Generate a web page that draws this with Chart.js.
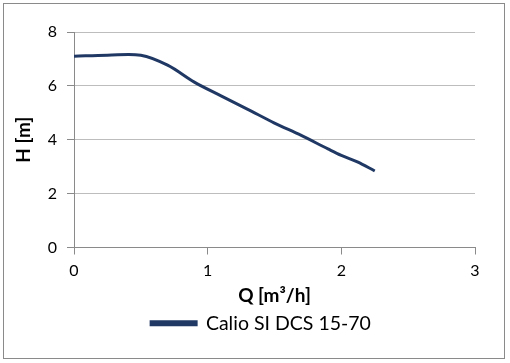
<!DOCTYPE html>
<html lang="en">
<head>
    <meta charset="UTF-8">
    <title>Calio SI DCS 15-70</title>
    <script src="https://cdn.jsdelivr.net/npm/chart.js"></script>
    <style>
        body {
            margin: 0;
            background-color: white;
        }
        #frame {
            position: absolute;
            left: 3px;
            top: 3px;
            width: 500px;
            height: 354px;
            border: 1px solid #8a8a8a;
        }
    </style>
</head>
<body>

<div id="frame">
    <canvas id="pumpChart" width="500" height="354"></canvas>
</div>

<script>
    const seriesName = 'Calio SI DCS 15-70';
    const flowQ = [0, 0.25, 0.5, 0.7, 0.9, 1.1, 1.3, 1.5, 1.7, 1.9, 2.0, 2.12, 2.25];
    const headH = [7.1, 7.14, 7.14, 6.77, 6.14, 5.63, 5.13, 4.62, 4.16, 3.66, 3.42, 3.18, 2.84];
    const xTicks = [0, 1, 2, 3];
    const yTicks = [0, 2, 4, 6, 8];

    const lineColor = '#203864';
    const fontFamily = "Lato, 'Open Sans', sans-serif";

    const points = flowQ.map((q, i) => ({ x: q, y: headH[i] }));

    const ctx = document.getElementById('pumpChart').getContext('2d');
    new Chart(ctx, {
        type: 'line',
        data: {
            datasets: [{
                label: seriesName,
                data: points,
                borderColor: lineColor,
                backgroundColor: lineColor,
                borderWidth: 3,
                pointRadius: 0,
                tension: 0.35,
                fill: false
            }]
        },
        options: {
            responsive: false,
            animation: false,
            layout: {
                padding: { left: 16, right: 2, top: 28, bottom: 15 }
            },
            plugins: {
                legend: {
                    position: 'bottom',
                    labels: {
                        color: '#000',
                        font: { family: fontFamily, size: 19.5 },
                        boxWidth: 45,
                        boxHeight: 3,
                        padding: 1
                    }
                },
                tooltip: { enabled: false }
            },
            scales: {
                x: {
                    type: 'linear',
                    min: 0,
                    max: 3,
                    afterBuildTicks: (scale) => {
                        scale.ticks = xTicks.map(v => ({ value: v }));
                    },
                    grid: {
                        drawOnChartArea: false,
                        color: '#8a8a8a',
                        tickLength: 7
                    },
                    border: { color: '#8a8a8a' },
                    ticks: {
                        color: '#000',
                        font: { family: fontFamily, size: 16 },
                        padding: 7,
                        maxRotation: 0
                    },
                    title: {
                        display: true,
                        text: 'Q [m³/h]',
                        color: '#000',
                        font: { family: fontFamily, size: 19, weight: 'bold' },
                        padding: { top: -3, bottom: 5 }
                    }
                },
                y: {
                    min: 0,
                    max: 8,
                    afterBuildTicks: (scale) => {
                        scale.ticks = yTicks.map(v => ({ value: v }));
                    },
                    afterFit: (scale) => {
                        scale.width = 54;
                    },
                    grid: {
                        color: '#bdbdbd',
                        tickLength: 7,
                        tickColor: '#8a8a8a'
                    },
                    border: { color: '#8a8a8a' },
                    ticks: {
                        color: '#000',
                        font: { family: fontFamily, size: 16 },
                        padding: 10
                    },
                    title: {
                        display: true,
                        text: 'H [m]',
                        color: '#000',
                        font: { family: fontFamily, size: 19, weight: 'bold' },
                        padding: { top: -8, bottom: 0 }
                    }
                },
                // empty right-hand axis, only to leave the blank margin right of the plot
                yRight: {
                    position: 'right',
                    grid: { display: false },
                    border: { display: false },
                    ticks: { display: false },
                    afterFit: (scale) => {
                        scale.width = 27;
                    }
                }
            }
        }
    });
</script>

</body>
</html>
